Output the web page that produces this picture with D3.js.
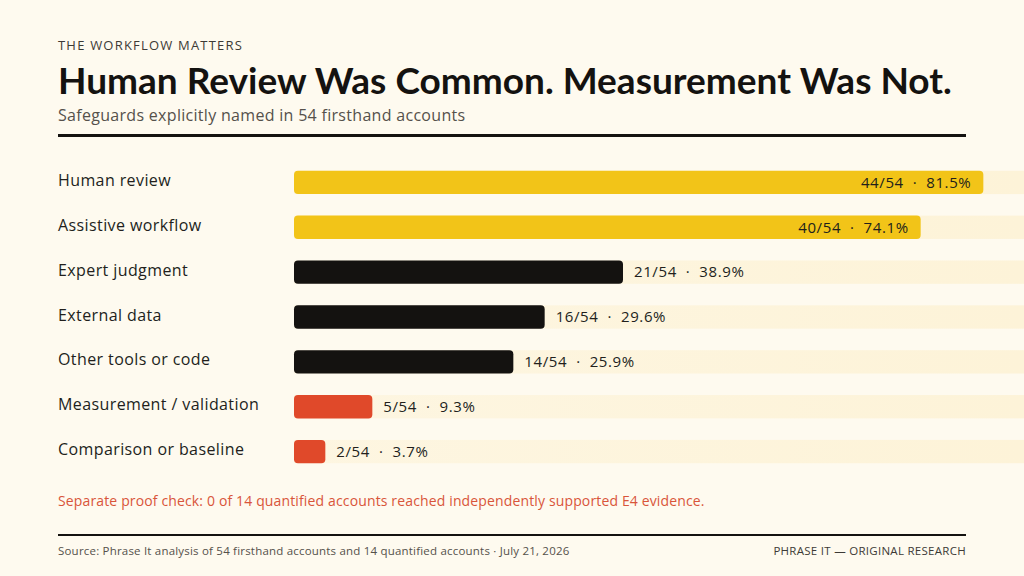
<!DOCTYPE html>
<html>
<head>
<meta charset="utf-8">
<script src="https://cdn.jsdelivr.net/npm/d3@7"></script>
<style>
  html, body { margin: 0; padding: 0; background: #fefaef; }
  svg { display: block; font-family: "Open Sans", Lato, sans-serif; }
</style>
</head>
<body>
<div id="chart"></div>
<script>
// safeguards named in the firsthand accounts
const categories = ['Human review', 'Assistive workflow', 'Expert judgment', 'External data',
  'Other tools or code', 'Measurement / validation', 'Comparison or baseline']
const counts = [44, 40, 21, 16, 14, 5, 2]
const percents = ['81.5%', '74.1%', '38.9%', '29.6%', '25.9%', '9.3%', '3.7%']
const groups = ['common', 'common', 'mid', 'mid', 'mid', 'rare', 'rare']
const totalAccounts = 54

const width = 1024
const height = 576

const colors = { common: '#f2c418', mid: '#141210', rare: '#e0492a' }

const svg = d3.select('#chart')
  .append('svg')
  .attr('width', width)
  .attr('height', height)

svg.append('rect')
  .attr('width', width)
  .attr('height', height)
  .attr('fill', '#fefaef')

// header
svg.append('text')
  .attr('x', 58).attr('y', 50)
  .attr('font-size', 13)
  .attr('letter-spacing', '1.2px')
  .attr('fill', '#3d3a36')
  .text('THE WORKFLOW MATTERS')

const title = svg.append('text')
  .attr('x', 58).attr('y', 94)
  .attr('font-family', 'Lato, sans-serif')
  .attr('font-size', 34)
  .attr('font-weight', 'bold')
  .attr('fill', '#141210')
  .text('Human Review Was Common. Measurement Was Not.')

// stretch title to the same width as the original
const titleW = title.node().getComputedTextLength()
title.attr('font-size', 34 * 894 / titleW)

svg.append('text')
  .attr('x', 58).attr('y', 121)
  .attr('font-size', 16)
  .attr('letter-spacing', '0.3px')
  .attr('fill', '#55514b')
  .text('Safeguards explicitly named in 54 firsthand accounts')

svg.append('line')
  .attr('x1', 58).attr('x2', 966)
  .attr('y1', 135.5).attr('y2', 135.5)
  .attr('stroke', '#141210')
  .attr('stroke-width', 3)

// scales
const xScale = d3.scaleLinear()
  .domain([0, totalAccounts])
  .range([294, 1140])

const yScale = d3.scaleBand()
  .domain(categories)
  .range([160, 474])
  .paddingInner(0.48)
  .paddingOuter(0.24)

const rows = categories.map((c, i) => ({
  cat: c, count: counts[i], pct: percents[i], group: groups[i]
}))

// faint tracks running off to the right
const grad = svg.append('defs').append('linearGradient')
  .attr('id', 'track')
  .attr('x1', '0').attr('x2', '1')
grad.append('stop').attr('offset', '0').attr('stop-color', '#fdf3d8').attr('stop-opacity', 0.6)
grad.append('stop').attr('offset', '1').attr('stop-color', '#fdf3d8').attr('stop-opacity', 1)

svg.selectAll('.track')
  .data(rows)
  .enter()
  .append('rect')
    .attr('class', 'track')
    .attr('x', xScale(0))
    .attr('y', d => yScale(d.cat))
    .attr('width', width - xScale(0))
    .attr('height', yScale.bandwidth())
    .attr('fill', 'url(#track)')

svg.selectAll('.bar')
  .data(rows)
  .enter()
  .append('rect')
    .attr('class', 'bar')
    .attr('x', xScale(0))
    .attr('y', d => yScale(d.cat))
    .attr('width', d => xScale(d.count) - xScale(0))
    .attr('height', yScale.bandwidth())
    .attr('rx', 4)
    .attr('fill', d => colors[d.group])

// category labels
svg.selectAll('.cat')
  .data(rows)
  .enter()
  .append('text')
    .attr('class', 'cat')
    .attr('x', 58)
    .attr('y', d => yScale(d.cat) + yScale.bandwidth() / 2 - 2)
    .attr('dy', '0.35em')
    .attr('font-size', 16)
    .attr('letter-spacing', '0.4px')
    .attr('fill', '#221f1c')
    .text(d => d.cat)

// value labels, inside the long bars and outside the short ones
svg.selectAll('.val')
  .data(rows)
  .enter()
  .append('text')
    .attr('class', 'val')
    .attr('x', d => d.group === 'common' ? xScale(d.count) - 12 : xScale(d.count) + 11)
    .attr('y', d => yScale(d.cat) + yScale.bandwidth() / 2)
    .attr('dy', '0.35em')
    .attr('text-anchor', d => d.group === 'common' ? 'end' : 'start')
    .attr('font-size', 15)
    .attr('letter-spacing', '0.6px')
    .attr('fill', '#221f1c')
    .attr('xml:space', 'preserve')
    .text(d => `${d.count}/${totalAccounts}  ·  ${d.pct}`)

// note and footer
svg.append('text')
  .attr('x', 58).attr('y', 506)
  .attr('font-size', 14)
  .attr('letter-spacing', '0.14px')
  .attr('fill', '#d9553a')
  .text('Separate proof check: 0 of 14 quantified accounts reached independently supported E4 evidence.')

svg.append('line')
  .attr('x1', 58).attr('x2', 966)
  .attr('y1', 535).attr('y2', 535)
  .attr('stroke', '#141210')
  .attr('stroke-width', 2)

svg.append('text')
  .attr('x', 58).attr('y', 555)
  .attr('font-size', 11.5)
  .attr('letter-spacing', '0.2px')
  .attr('fill', '#55514b')
  .text('Source: Phrase It analysis of 54 firsthand accounts and 14 quantified accounts · July 21, 2026')

svg.append('text')
  .attr('x', 966).attr('y', 555)
  .attr('text-anchor', 'end')
  .attr('font-size', 11.5)
  .attr('letter-spacing', '0.28px')
  .attr('fill', '#3d3a36')
  .text('PHRASE IT — ORIGINAL RESEARCH')
</script>
</body>
</html>
